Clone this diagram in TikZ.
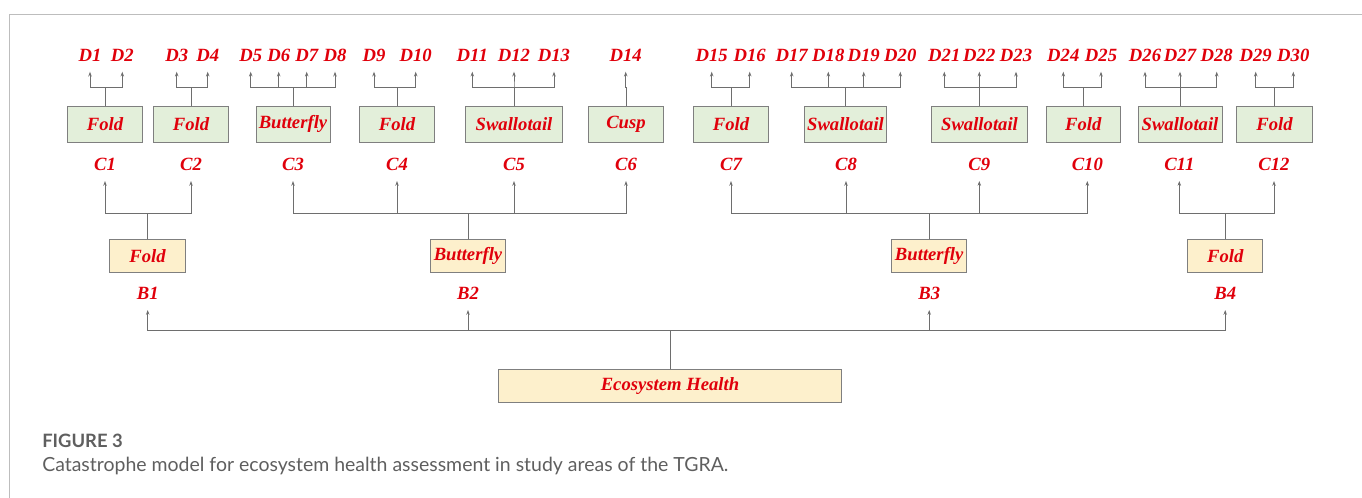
\documentclass[tikz,border=0pt]{standalone}
\usepackage{fontspec}
\setmainfont{Liberation Serif}
\newfontfamily\capfont{Lato}
\usetikzlibrary{arrows.meta}
\definecolor{lblred}{HTML}{E0000B}
\definecolor{greenfill}{HTML}{E3EFDA}
\definecolor{creamfill}{HTML}{FDF0CC}
\definecolor{boxgray}{HTML}{7F7F7F}
\definecolor{linegray}{HTML}{6E6E6E}
\definecolor{framegray}{HTML}{BDBDBD}
\definecolor{capgray}{HTML}{5F5F5F}

\begin{document}
\begin{tikzpicture}[x=0.75pt,y=-0.75pt,>={Stealth[length=3.6pt,width=2.6pt]},
  font=\fontsize{14}{16}\selectfont\bfseries\itshape,
  lab/.style={text=lblred,inner xsep=0pt,inner ysep=7.5pt,text height=9.5pt,text depth=0pt,anchor=south},
  gbox/.style={draw=boxgray,fill=greenfill,text=lblred,inner sep=0pt,minimum height=27pt,line width=0.7pt},
  ybox/.style={draw=boxgray,fill=creamfill,text=lblred,inner sep=0pt,minimum height=24.5pt,line width=0.7pt},
  conn/.style={draw=linegray,line width=0.6pt}]
\useasboundingbox (0,0) rectangle (1362,498);
% open frame
\draw[framegray,line width=0.8pt] (9.5,498) |- (1362,14.5);

% sub-indicators
\foreach \n/\x in {1/90,2/122.3,3/176.7,4/207.7,5/250.7,6/278.7,7/306.7,8/335,
  9/374,10/415.7,11/472.3,12/514,13/554,14/625.7,15/711.7,16/749.7,
  17/791.7,18/828.3,19/863.7,20/900.3,21/944.3,22/979.3,23/1016,
  24/1063.3,25/1101,26/1145,27/1180,28/1216.7,29/1255.7,30/1293.3}
  \node[lab] (d\n) at (\x,71.7) {D\n};

% criteria-level models
\node[gbox,minimum width=56.5pt] (fc1) at (105,124) {Fold};
\node[gbox,minimum width=56.5pt] (fc2) at (191,124) {Fold};
\node[gbox,minimum width=55.5pt] (fc3) at (293,124) {Butterfly};
\node[gbox,minimum width=56.5pt] (fc4) at (397,124) {Fold};
\node[gbox,minimum width=72.5pt] (fc5) at (514,124) {Swallotail};
\node[gbox,minimum width=56pt] (fc6) at (626,124) {Cusp};
\node[gbox,minimum width=56.5pt] (fc7) at (731,124) {Fold};
\node[gbox,minimum width=61pt] (fc8) at (845.5,124) {Swallotail};
\node[gbox,minimum width=72.5pt] (fc9) at (979.5,124) {Swallotail};
\node[gbox,minimum width=56pt] (fc10) at (1083.3,124) {Fold};
\node[gbox,minimum width=63pt] (fc11) at (1180,124) {Swallotail};
\node[gbox,minimum width=56.5pt] (fc12) at (1274.5,124) {Fold};

\foreach \b/\kids in {fc1/{d1,d2},fc2/{d3,d4},fc3/{d5,d6,d7,d8},fc4/{d9,d10},
  fc5/{d11,d12,d13},fc6/{d14},fc7/{d15,d16},fc8/{d17,d18,d19,d20},
  fc9/{d21,d22,d23},fc10/{d24,d25},fc11/{d26,d27,d28},fc12/{d29,d30}}
  \foreach \k in \kids
    \draw[conn,->] (\b.north) -- (\b.north |- 0,87.7) -| (\k.south);

% criteria
\foreach \n/\x in {1/105,2/191,3/293,4/397,5/514,6/626,7/731,8/846,
  9/979.3,10/1087.3,11/1179.3,12/1274}
  \node[lab] (c\n) at (\x,181) {C\n};

% element-level models
\node[ybox,minimum width=56.5pt] (fb1) at (147.5,256) {Fold};
\node[ybox,minimum width=56.5pt] (fb2) at (468,256) {Butterfly};
\node[ybox,minimum width=56.5pt] (fb3) at (929.2,256) {Butterfly};
\node[ybox,minimum width=56.5pt] (fb4) at (1225.2,256) {Fold};

\foreach \b/\kids in {fb1/{c1,c2},fb2/{c3,c4,c5,c6},fb3/{c7,c8,c9,c10},fb4/{c11,c12}}
  \foreach \k in \kids
    \draw[conn,->] (\b.north) -- (\b.north |- 0,213.5) -| (\k.south);

% elements
\foreach \n/\x in {1/147.7,2/468,3/929.2,4/1225.2}
  \node[lab] (b\n) at (\x,310) {B\n};

% goal
\node[ybox,minimum width=257.5pt] (eh) at (670,386.3) {Ecosystem Health};
\foreach \k in {b1,b2,b3,b4}
  \draw[conn,->] (eh.north) -- (eh.north |- 0,330.7) -| (\k.south);

% caption
\node[font=\capfont\fontsize{13.8}{15}\selectfont\bfseries,text=capgray,anchor=base west,inner sep=0pt]
  (fig) at (42,447.5) {FIGURE 3};
\node[font=\capfont\fontsize{14.6}{16}\selectfont,text=capgray,anchor=base west,inner sep=0pt]
  (cap) at (42,471.5) {Catastrophe model for ecosystem health assessment in study areas of the TGRA.};
\end{tikzpicture}
\end{document}
